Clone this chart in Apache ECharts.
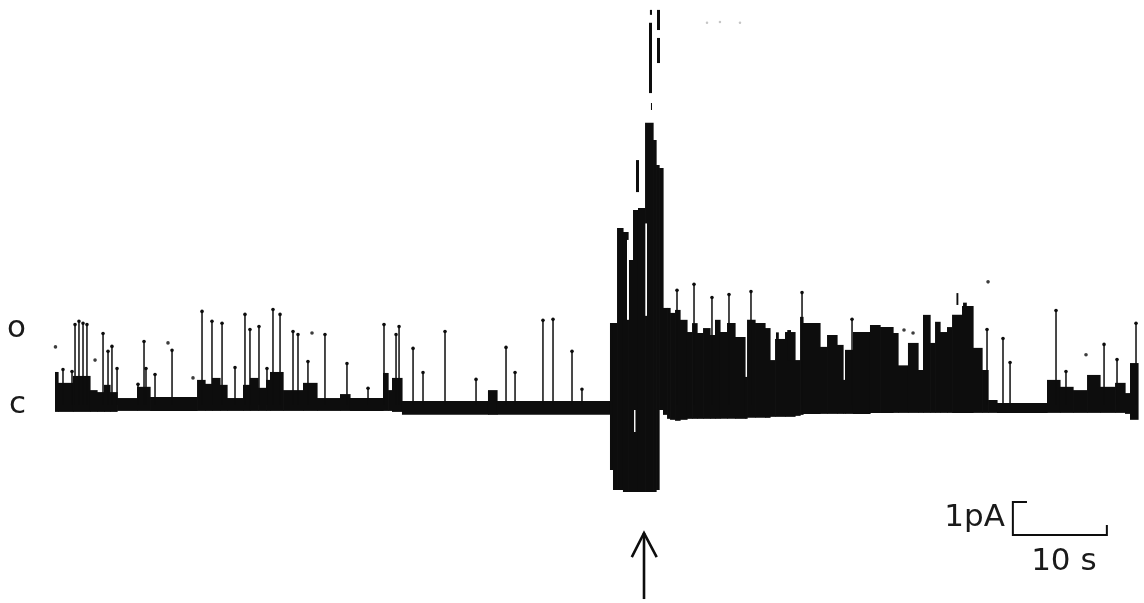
<!DOCTYPE html>
<html>
<head>
<meta charset="utf-8">
<script src="https://cdn.jsdelivr.net/npm/echarts@6/dist/echarts.min.js"></script>
<style>
  html, body { margin: 0; padding: 0; background: #fff; }
  #chart { width: 1144px; height: 603px; }
</style>
</head>
<body>
<div id="chart"></div>
<script>
// Single-channel current record. Time in s, current in pA, closed level at 0.
const closedLevel = 0;
const openLevel = 2.3;
const levelLabels = ['c', 'o'];

// Trace envelope: [start time, lower edge, upper edge]; each step runs to the next start.
const envelope = [
  [0, -0.21, 1.0], [0.32, -0.21, 0.67], [1.91, -0.21, 0.88], [3.72, -0.21, 0.45],
  [4.47, -0.21, 0.39], [5.21, -0.21, 0.61], [5.85, -0.21, 0.39], [6.60, -0.18, 0.21],
  [8.72, -0.18, 0.55], [10.11, -0.18, 0.24], [15.11, -0.18, 0.76], [15.96, -0.18, 0.64],
  [16.70, -0.18, 0.82], [17.55, -0.18, 0.61], [18.30, -0.18, 0.21], [20.0, -0.18, 0.61],
  [20.74, -0.18, 0.82], [21.60, -0.18, 0.52], [22.45, -0.18, 0.76], [22.87, -0.18, 1.0],
  [24.26, -0.18, 0.45], [26.38, -0.18, 0.67], [27.87, -0.18, 0.21], [30.32, -0.18, 0.33],
  [31.38, -0.18, 0.21], [34.89, -0.18, 0.97], [35.43, -0.18, 0.45], [35.85, -0.21, 0.82],
  [36.91, -0.30, 0.12], [46.06, -0.30, 0.45], [47.02, -0.30, 0.12],
  // burst
  [59.04, -1.97, 2.48], [59.36, -2.58, 2.48], [59.79, -2.58, 5.36], [60.42, -2.64, 5.24],
  [60.96, -2.64, 4.39], [61.49, -2.64, 5.91], [62.02, -2.64, 5.97], [62.77, -2.64, 8.55],
  [63.62, -2.64, 8.03], [63.94, -2.58, 7.27], [64.26, -0.15, 7.18],
  // dense openings after the burst
  [64.68, -0.30, 2.94], [65.11, -0.42, 2.94], [65.43, -0.45, 2.79], [65.96, -0.48, 2.88],
  [66.49, -0.45, 2.58], [67.23, -0.42, 2.21], [67.77, -0.42, 2.48], [68.30, -0.42, 2.18],
  [68.94, -0.42, 2.33], [69.68, -0.42, 2.12], [70.21, -0.42, 2.58], [70.74, -0.42, 2.21],
  [71.49, -0.42, 2.48], [72.34, -0.42, 2.06], [73.40, -0.42, 0.85], [73.62, -0.39, 2.58],
  [74.47, -0.39, 2.48], [75.53, -0.39, 2.33], [76.06, -0.36, 1.36], [76.60, -0.36, 2.0],
  [77.66, -0.36, 2.21], [78.72, -0.33, 1.36], [79.26, -0.30, 2.67], [79.57, -0.27, 2.48],
  [81.38, -0.27, 1.76], [82.13, -0.27, 2.12], [83.19, -0.27, 1.82], [83.83, -0.27, 0.76],
  [84.04, -0.27, 1.67], [84.89, -0.27, 2.21], [86.70, -0.24, 2.42], [87.77, -0.24, 2.36],
  [89.15, -0.24, 2.18], [89.68, -0.24, 1.2], [90.74, -0.24, 1.88], [91.81, -0.24, 1.06],
  [92.34, -0.24, 2.73], [93.09, -0.24, 1.88], [93.62, -0.24, 2.52], [94.15, -0.24, 2.21],
  [94.89, -0.24, 2.36], [95.43, -0.24, 2.73], [96.49, -0.24, 3.0], [97.66, -0.24, 1.73],
  [98.62, -0.24, 1.06], [99.26, -0.24, 0.15], [100.21, -0.24, 0.06], [105.53, -0.24, 0.76],
  [106.91, -0.24, 0.55], [108.30, -0.24, 0.45], [109.79, -0.24, 0.91], [111.17, -0.24, 0.55],
  [112.77, -0.24, 0.67], [113.83, -0.27, 0.36], [114.36, -0.45, 1.27]
];
const traceEnd = 115.21;

// Brief openings: [time, peak current]
const openings = [
  [0.85, 1.12], [1.81, 1.06], [2.13, 2.48], [2.55, 2.58], [2.98, 2.52], [3.40, 2.48],
  [5.11, 2.21], [5.64, 1.67], [6.06, 1.82], [6.60, 1.15], [8.83, 0.67], [9.47, 1.97],
  [9.68, 1.15], [10.64, 0.97], [12.45, 1.70], [15.64, 2.88], [16.70, 2.58], [17.77, 2.52],
  [19.15, 1.18], [20.21, 2.79], [20.74, 2.33], [21.70, 2.42], [22.55, 1.15], [23.19, 2.94],
  [23.94, 2.79], [25.32, 2.27], [25.85, 2.18], [26.91, 1.36], [28.72, 2.18], [31.06, 1.30],
  [33.30, 0.55], [35.0, 2.48], [36.28, 2.18], [36.60, 2.42], [38.09, 1.76], [39.15, 1.03],
  [41.49, 2.27], [44.79, 0.82], [47.98, 1.79], [48.94, 1.03], [51.91, 2.61], [52.98, 2.64],
  [55.0, 1.67], [56.06, 0.52], [66.17, 3.52], [67.98, 3.70], [69.89, 3.30], [71.70, 3.39],
  [74.04, 3.48], [79.47, 3.45], [84.79, 2.64], [99.15, 2.33], [100.85, 2.06], [101.60, 1.33],
  [106.49, 2.91], [107.55, 1.06], [111.60, 1.88], [112.98, 1.42], [115.0, 2.52]
];

// Detached pieces of trace above the envelope: [t0, t1, lower, upper]
const fragments = [
  [63.19, 63.51, 9.45, 11.58], [63.29, 63.51, 11.82, 11.97], [63.40, 63.51, 8.94, 9.15],
  [64.04, 64.36, 11.36, 11.97], [64.04, 64.36, 10.36, 11.12], [61.81, 62.13, 6.45, 7.42],
  [76.7, 77.0, 2.0, 2.2], [77.9, 78.3, 1.36, 2.27],
  [95.9, 96.1, 3.03, 3.39], [96.6, 97.0, 2.9, 3.1]
];

// Light streaks inside the burst where the trace is not fully inked: [t0, t1, lower, upper]
const gaps = [
  [60.85, 61.06, 2.58, 5.0], [62.8, 62.98, 2.7, 5.5], [61.6, 61.75, -0.82, -0.15]
];

// Isolated sample points
const dots = [
  [0.05, 1.76], [4.26, 1.36], [12.02, 1.88], [14.68, 0.82], [27.34, 2.18],
  [90.32, 2.27], [91.28, 2.18], [99.26, 3.73], [109.68, 1.52]
];
const faintDots = [[69.36, 11.58], [70.74, 11.6], [72.87, 11.58]];

// Calibration bar and stimulus marker
const scaleBarOrigin = [101.9, -3.94];
const scaleBarTime = 10;     // s
const scaleBarCurrent = 1;   // pA
const stimulusTime = 62.66;  // s

const INK = '#0d0d0d';
const FONT = '"DejaVu Sans", sans-serif';

const bandRects = envelope.map((e, i) => {
  const t1 = i + 1 < envelope.length ? envelope[i + 1][0] : traceEnd;
  return [e[0], t1, e[1], e[2]];
});

function makeRect(fill, pad) {
  return function (params, api) {
    const p0 = api.coord([api.value(0), api.value(3)]);
    const p1 = api.coord([api.value(1), api.value(2)]);
    return {
      type: 'rect',
      shape: { x: p0[0], y: p0[1], width: Math.max(p1[0] - p0[0], 1) + pad, height: Math.max(p1[1] - p0[1], 1) },
      style: { fill: fill }
    };
  };
}

function openingItem(params, api) {
  const base = api.coord([api.value(0), closedLevel]);
  const top = api.coord([api.value(0), api.value(1)]);
  return {
    type: 'group',
    children: [
      { type: 'line', shape: { x1: base[0], y1: base[1], x2: top[0], y2: top[1] + 1 }, style: { stroke: INK, lineWidth: 1.5 } },
      { type: 'circle', shape: { cx: top[0], cy: top[1] + 1.5, r: 1.8 }, style: { fill: INK } }
    ]
  };
}

const [sx, sy] = scaleBarOrigin;
const scaleBar = [
  [sx + 1.5, sy + scaleBarCurrent], [sx, sy + scaleBarCurrent], [sx, sy],
  [sx + scaleBarTime, sy], [sx + scaleBarTime, sy + 0.3]
];
const arrowTip = [stimulusTime, -3.88];
const arrowHead = [[stimulusTime - 1.3, -4.61], arrowTip, [stimulusTime + 1.35, -4.61]];
const arrowShaft = [arrowTip, [stimulusTime, -5.88]];

const chart = echarts.init(document.getElementById('chart'), null, { renderer: 'canvas' });

const lineStyle = (w) => ({
  type: 'line', symbol: 'none', silent: true, animation: false,
  lineStyle: { color: INK, width: w, cap: 'butt', join: 'miter' }
});

chart.setOption({
  backgroundColor: '#fff',
  animation: false,
  grid: { left: 55, right: 0, top: 0, bottom: 0, containLabel: false },
  xAxis: { type: 'value', min: 0, max: 115.85, show: false },
  yAxis: {
    type: 'value', min: -6, max: 12.27,
    axisLine: { show: false }, axisTick: { show: false }, splitLine: { show: false },
    axisLabel: {
      customValues: [closedLevel, openLevel],
      formatter: (v) => (v === openLevel ? levelLabels[1] : levelLabels[0]),
      margin: 29, color: '#1a1a1a', fontSize: 31, fontFamily: FONT
    }
  },
  series: [
    { type: 'custom', renderItem: makeRect(INK, 0.6), data: bandRects, clip: false, silent: true, animation: false },
    { type: 'custom', renderItem: makeRect(INK, 0), data: fragments, clip: false, silent: true, animation: false },
    { type: 'custom', renderItem: makeRect('#ffffff', 0), data: gaps, clip: false, silent: true, animation: false },
    { type: 'custom', renderItem: openingItem, data: openings, clip: false, silent: true, animation: false },
    { type: 'scatter', data: dots, symbolSize: 3.6, itemStyle: { color: INK }, silent: true, animation: false },
    { type: 'scatter', data: faintDots, symbolSize: 2.5, itemStyle: { color: '#b8b8b8' }, silent: true, animation: false },
    Object.assign(lineStyle(2), { data: scaleBar }),
    Object.assign(lineStyle(2.6), { data: arrowHead }),
    Object.assign(lineStyle(2.6), { data: arrowShaft })
  ]
});

// calibration labels placed next to the bar
const barTop = chart.convertToPixel({ gridIndex: 0 }, [sx, sy + scaleBarCurrent]);
const barLeft = chart.convertToPixel({ gridIndex: 0 }, [sx, sy]);
const barRight = chart.convertToPixel({ gridIndex: 0 }, [sx + scaleBarTime, sy]);
chart.setOption({
  graphic: [
    {
      type: 'text', x: barLeft[0] - 8, y: barTop[1] + 16,
      style: { text: scaleBarCurrent + 'pA', font: '31px ' + FONT, fill: '#1a1a1a', align: 'right', verticalAlign: 'middle' }
    },
    {
      type: 'text', x: (barLeft[0] + barRight[0]) / 2 + 4, y: barLeft[1] + 27,
      style: { text: scaleBarTime + ' s', font: '31px ' + FONT, fill: '#1a1a1a', align: 'center', verticalAlign: 'middle' }
    }
  ]
});
</script>
</body>
</html>
